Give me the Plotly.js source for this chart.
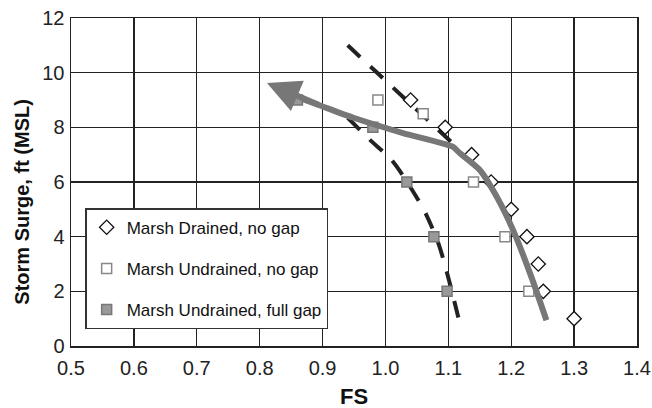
<!DOCTYPE html>
<html>
<head>
<meta charset="utf-8">
<script src="https://cdn.plot.ly/plotly-3.0.1.min.js"></script>
<style>html,body{margin:0;padding:0;background:#fff;}#chart{width:652px;height:408px;}</style>
</head>
<body>
<div id="chart"></div>
<script>
// Data
const drainedFS    = [1.04, 1.095, 1.137, 1.168, 1.200, 1.225, 1.243, 1.251, 1.300];
const drainedSurge = [9, 8, 7, 6, 5, 4, 3, 2, 1];

const undrainedFS    = [0.988, 1.060, 1.140, 1.190, 1.228];
const undrainedSurge = [9, 8.5, 6, 4, 2];

const fullGapFS    = [0.860, 0.980, 1.034, 1.077, 1.098];
const fullGapSurge = [9, 8, 6, 4, 2];

// dashed trend curves
const dashAFS    = [0.940, 1.025, 1.110];
const dashASurge = [11.0, 9.18, 7.35];
const dashBFS    = [0.940, 0.975, 1.010, 1.040, 1.065, 1.085, 1.100, 1.118];
const dashBSurge = [8.35, 7.55, 6.80, 5.80, 4.80, 3.70, 2.50, 0.85];

// solid grey trend (arrow)
const solidFS    = [1.256, 1.232, 1.203, 1.177, 1.150, 1.118, 1.107, 1.028, 0.948, 0.896, 0.870];
const solidSurge = [0.94, 2.53, 4.24, 5.46, 6.44, 7.06, 7.29, 7.79, 8.36, 8.80, 9.02];
const arrowTail = [0.896, 8.80];
const arrowTip  = [0.8116, 9.62];

const xTicks = [0.5, 0.6, 0.7, 0.8, 0.9, 1.0, 1.1, 1.2, 1.3, 1.4];
const xTickText = ['0.5','0.6','0.7','0.8','0.9','1.0','1.1','1.2','1.3','1.4'];
const yTicks = [0, 2, 4, 6, 8, 10, 12];

const traces = [
  {x: dashAFS, y: dashASurge, mode: 'lines', line: {color: '#222', width: 4, dash: '17px,14px'}, showlegend: false, hoverinfo: 'skip'},
  {x: dashBFS, y: dashBSurge, mode: 'lines', line: {color: '#222', width: 4, dash: '17px,14px', shape: 'spline', smoothing: 0.8}, showlegend: false, hoverinfo: 'skip'},
  {x: drainedFS, y: drainedSurge, mode: 'markers', name: 'Marsh Drained, no gap', legendgroup: 'a',
   marker: {symbol: 'diamond', size: 11, color: '#fff', line: {color: '#111', width: 1.3}}},
  {x: undrainedFS, y: undrainedSurge, mode: 'markers', name: 'Marsh Undrained, no gap', legendgroup: 'b',
   marker: {symbol: 'square', size: 10, color: '#fff', line: {color: '#888', width: 1.5}}},
  {x: fullGapFS, y: fullGapSurge, mode: 'markers', name: 'Marsh Undrained, full gap', legendgroup: 'c',
   marker: {symbol: 'square', size: 10, color: '#999', line: {color: '#777', width: 1.5}}},
  {x: solidFS, y: solidSurge, mode: 'lines', line: {color: '#777', width: 6, shape: 'spline', smoothing: 0.6}, showlegend: false, hoverinfo: 'skip'}
];

const layout = {
  width: 652, height: 408,
  margin: {l: 71, r: 15, t: 18, b: 62},
  paper_bgcolor: '#fff', plot_bgcolor: '#fff',
  font: {family: 'Arial, Liberation Sans, sans-serif', color: '#222'},
  showlegend: true,
  xaxis: {
    range: [0.5, 1.4], tickvals: xTicks, ticktext: xTickText,
    showgrid: true, gridcolor: '#222', gridwidth: 1.4,
    showline: true, linecolor: '#222', linewidth: 1.5, mirror: true,
    zeroline: false, ticks: '', ticklabelstandoff: 3, tickfont: {size: 20, color: '#222'}
  },
  yaxis: {
    range: [0, 12], tickvals: yTicks,
    showgrid: true, gridcolor: '#222', gridwidth: 1.4,
    showline: true, linecolor: '#222', linewidth: 1.5, mirror: true,
    zeroline: false, ticks: '', ticklabelstandoff: 1, tickfont: {size: 20, color: '#222'}
  },
  legend: {
    x: 0.025, y: 0.42, xanchor: 'left', yanchor: 'top',
    bgcolor: '#fff', bordercolor: '#333', borderwidth: 1.5,
    font: {size: 17, color: '#111'}, traceorder: 'grouped', tracegroupgap: 16
  },
  annotations: [
    {x: arrowTip[0], y: arrowTip[1], ax: arrowTail[0], ay: arrowTail[1], xref: 'x', yref: 'y', axref: 'x', ayref: 'y',
     text: '', showarrow: true, arrowhead: 2, arrowsize: 1.1, arrowwidth: 6, arrowcolor: '#777'},
    {text: '<b>Storm Surge, ft (MSL)</b>', xref: 'paper', yref: 'paper', x: -0.0866, y: 0.44,
     xanchor: 'center', yanchor: 'middle', textangle: -90, showarrow: false, font: {size: 20, color: '#111'}},
    {text: '<b>FS</b>', xref: 'paper', yref: 'paper', x: 0.5, y: -0.155,
     xanchor: 'center', yanchor: 'middle', showarrow: false, font: {size: 22, color: '#111'}}
  ]
};

Plotly.newPlot('chart', traces, layout, {staticPlot: true, displayModeBar: false});
</script>
</body>
</html>
